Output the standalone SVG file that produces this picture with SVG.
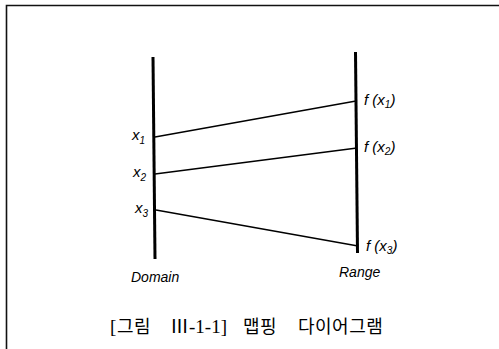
<svg xmlns="http://www.w3.org/2000/svg" width="499" height="349" viewBox="0 0 499 349">
<style>
.axis{stroke:#000;stroke-width:3;fill:none;stroke-linecap:butt}
.map{stroke:#000;stroke-width:1.4;fill:none}
.frame{stroke:#111;stroke-width:1.6;fill:none}
.lbl{font-family:"Liberation Sans",Arial,sans-serif;font-style:italic;font-size:15px;fill:#000}
.sub{font-size:10px}
.ax{font-family:"Liberation Sans",Arial,sans-serif;font-style:italic;font-size:14px;fill:#000}
.cap{font-family:"Noto Sans CJK KR",sans-serif;font-size:18px;letter-spacing:0.5px;fill:#000}
.rom{font-family:"Liberation Serif","Noto Sans CJK KR",serif;font-size:19px;letter-spacing:0}
</style>
<rect width="499" height="349" fill="#fff"/>
<path class="frame" d="M6.5,349 V5.5 H499"/>
<g id="domain">
<line class="axis" x1="153" y1="57" x2="155" y2="259"/>
<text class="ax" x="131" y="282">Domain</text>
</g>
<g id="range">
<line class="axis" x1="355.5" y1="52" x2="357.5" y2="253"/>
<text class="ax" x="339" y="277">Range</text>
</g>
<g id="x1"><text class="lbl" x="132" y="140">x<tspan class="sub" dy="4">1</tspan></text></g>
<g id="x2"><text class="lbl" x="133" y="177">x<tspan class="sub" dy="4">2</tspan></text></g>
<g id="x3"><text class="lbl" x="135" y="213">x<tspan class="sub" dy="4">3</tspan></text></g>
<g id="fx1"><text class="lbl" x="364" y="105">f (x<tspan class="sub" dy="3">1</tspan><tspan dy="-3">)</tspan></text></g>
<g id="fx2"><text class="lbl" x="364" y="152">f (x<tspan class="sub" dy="3">2</tspan><tspan dy="-3">)</tspan></text></g>
<g id="fx3"><text class="lbl" x="366" y="251">f (x<tspan class="sub" dy="3">3</tspan><tspan dy="-3">)</tspan></text></g>
<g id="connectors">
<line class="map" x1="155" y1="137" x2="356" y2="101"/>
<line class="map" x1="155" y1="174" x2="357" y2="148"/>
<line class="map" x1="156" y1="210" x2="358" y2="246"/>
</g>
<g id="caption">
<text class="cap" y="333"><tspan class="rom" x="110">[</tspan><tspan x="117">그림</tspan><tspan class="rom" x="170">Ⅲ-1-1]</tspan><tspan x="243">맵핑</tspan><tspan x="298">다이어그램</tspan></text>
</g>
</svg>
